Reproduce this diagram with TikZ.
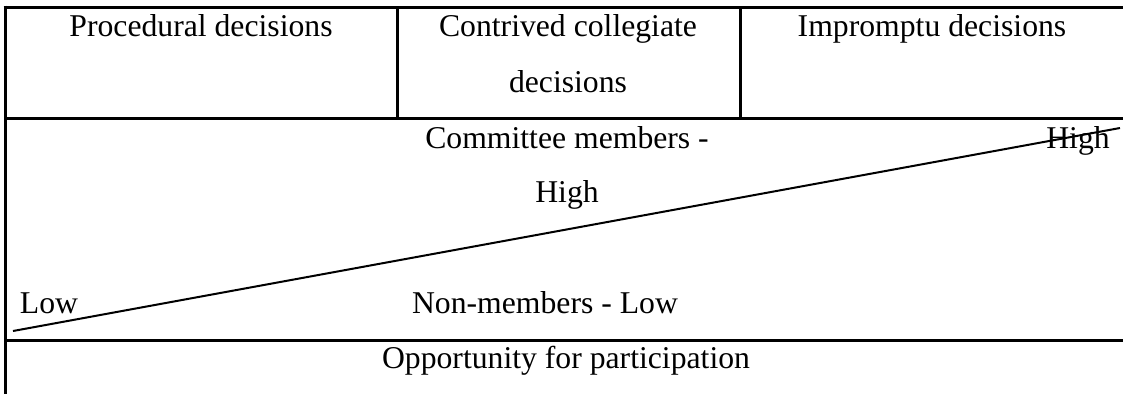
\documentclass[tikz,border=0pt]{standalone}
\usepackage{fontspec}
\setmainfont{Liberation Serif}
\begin{document}
\begin{tikzpicture}[x=1pt,y=-1pt,
  rule/.style={line width=3pt},
  slope/.style={line width=2pt},
  cell/.style={inner sep=0pt, anchor=base, font=\fontsize{31.7}{38}\selectfont}]
\useasboundingbox (0,0) rectangle (1123,394);
% table rules
\draw[rule] (3.5,7) -- (1123,7);
\draw[rule] (5,118) -- (1123,118);
\draw[rule] (5,340) -- (1123,340);
\draw[rule] (5,5.5) -- (5,394);
\draw[rule] (397,7) -- (397,118);
\draw[rule] (740,7) -- (740,118);
% header cells
\node[cell] (proc)   at (201,36) {Procedural decisions};
\node[cell] (contr1) at (568,36) {Contrived collegiate};
\node[cell] (contr2) at (568,92) {decisions};
\node[cell] (impr)   at (932,36) {Impromptu decisions};
% middle band
\node[cell] (cm)  at (567,148) {Committee members -};
\node[cell] (cmh) at (567,202) {High};
\node[cell] (nm)  at (545,313) {Non-members - Low};
\node[cell] (low) at (49,313) {Low};
\node[cell] (high) at (1078,148) {High};
% rising line from low to high
\coordinate (lo) at (13,331);
\coordinate (hi) at (1120,128);
\draw[slope] (lo) -- (hi);
% footer
\node[cell] (opp) at (566,368) {Opportunity for participation};
\end{tikzpicture}
\end{document}
